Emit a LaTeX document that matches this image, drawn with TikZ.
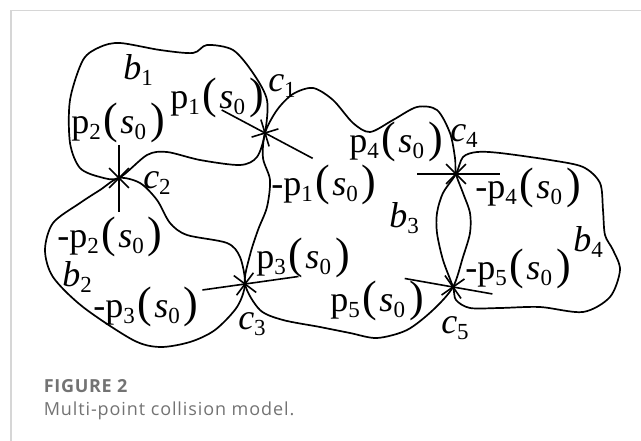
\documentclass[tikz,border=0pt]{standalone}
\usepackage{fontspec}
\setmainfont{Liberation Serif}
\newfontfamily\capfont{Open Sans}
\usetikzlibrary{calc}
\definecolor{frame}{HTML}{D6D6D6}
\definecolor{captxt}{HTML}{737373}
% subscript, tall parentheses, contact force label
\newcommand\sbs[1]{\raisebox{-6pt}{\fontsize{23}{23}\selectfont #1}}
\newcommand\prn[1]{{\fontsize{44}{44}\selectfont #1}}
\newcommand\force[2]{#1p\sbs{#2}\kern3pt\prn(\kern2pt\textit{s}\sbs{0}\kern4pt\prn)}

\begin{document}
\begin{tikzpicture}[x=1pt,y=-1pt,line width=1.6pt,
  body/.style={line width=1.7pt,line join=round},
  lab/.style={inner sep=0pt,font=\fontsize{36}{36}\selectfont},
  captext/.style={inner sep=0pt,anchor=base west,text=captxt}]
\useasboundingbox (0,0) rectangle (641,441);
\draw[frame,line width=1.5pt] (11,441) -- (11,10.5) -- (641,10.5);
% contact points
\coordinate (c1) at (265,133);
\coordinate (c2) at (119,178);
\coordinate (c3) at (245,284);
\coordinate (c4) at (456,174);
\coordinate (c5) at (453,287);
% bodies
\draw[body] plot[smooth cycle] coordinates {(120,43) (160,50) (193,53) (207,45) (233,50) (253,73) (267,100) (c1) (257,157) (240,165) (200,160) (167,152) (147,155) (c2) (100,177) (80,168) (70,143) (70,100) (83,60) (100,47)};
\draw[body] plot[smooth cycle] coordinates {(c2) (140,183) (157,200) (170,223) (187,235) (227,243) (240,257) (c3) (237,307) (215,330) (190,342) (160,347) (133,340) (83,307) (53,277) (45,250) (53,223) (80,203) (100,190)};
\draw[body] plot[smooth cycle] coordinates {(c1) (277,110) (293,94) (313,88) (333,100) (353,123) (370,132) (393,120) (417,107) (437,110) (450,133) (455,158) (c4) (463,193) (470,213) (470,233) (463,257) (c5) (433,310) (407,330) (377,338) (350,333) (320,327) (283,320) (260,310) (c3) (250,255) (258,230) (267,207) (270,180) (263,158)};
\draw[body] plot[smooth cycle] coordinates {(c4) (463,157) (477,152) (500,153) (550,160) (583,167) (600,183) (603,210) (605,235) (613,250) (620,270) (610,297) (583,312) (540,307) (500,308) (470,308) (456,300) (c5) (443,260) (437,233) (437,213) (443,193)};
% forces and contact marks
\foreach \c/\a/\l/\r in {c1/28/49/54, c2/90/33/34, c3/-8/43/54, c4/0/39/44, c5/10/49/40}{
  \draw[shift={(\c)}] (\a+180:\l) -- (\a:\r);
  \draw[shift={(\c)}] (\a+45:14) -- (\a+225:14);
  \draw[shift={(\c)}] (\a-45:14) -- (\a+135:14);
}
% labels
\node[lab] (b1) at (138,70) {\textit{b}\sbs{1}};
\node[lab] (b2) at (77,277) {\textit{b}\sbs{2}};
\node[lab] (b3) at (404,218) {\textit{b}\sbs{3}};
\node[lab] (b4) at (588,242) {\textit{b}\sbs{4}};
\node[lab] (lc1) at (282,86) {\textit{c}\sbs{1}};
\node[lab] (lc2) at (157,183) {\textit{c}\sbs{2}};
\node[lab] (lc3) at (252,324) {\textit{c}\sbs{3}};
\node[lab] (lc4) at (464,136) {\textit{c}\sbs{4}};
\node[lab] (lc5) at (455,328) {\textit{c}\sbs{5}};
\node[lab] (p1) at (217,98) {\force{}{1}};
\node[lab] (p2) at (118,123) {\force{}{2}};
\node[lab] (p3) at (303,258) {\force{}{3}};
\node[lab] (p4) at (396,142) {\force{}{4}};
\node[lab] (p5) at (377,301) {\force{}{5}};
\node[lab] (m1) at (324,185) {\force{-}{1}};
\node[lab] (m2) at (110,237) {\force{-}{2}};
\node[lab] (m3) at (146,307) {\force{-}{3}};
\node[lab] (m4) at (528,188) {\force{-}{4}};
\node[lab] (m5) at (518,269) {\force{-}{5}};
% caption
\node[captext,font=\capfont\bfseries\fontsize{18}{18}\selectfont\addfontfeature{LetterSpace=4}] (fig) at (43,392) {FIGURE 2};
\node[captext,font=\capfont\fontsize{18}{18}\selectfont\addfontfeature{LetterSpace=5}] (txt) at (43,415) {Multi-point collision model.};
\end{tikzpicture}
\end{document}
